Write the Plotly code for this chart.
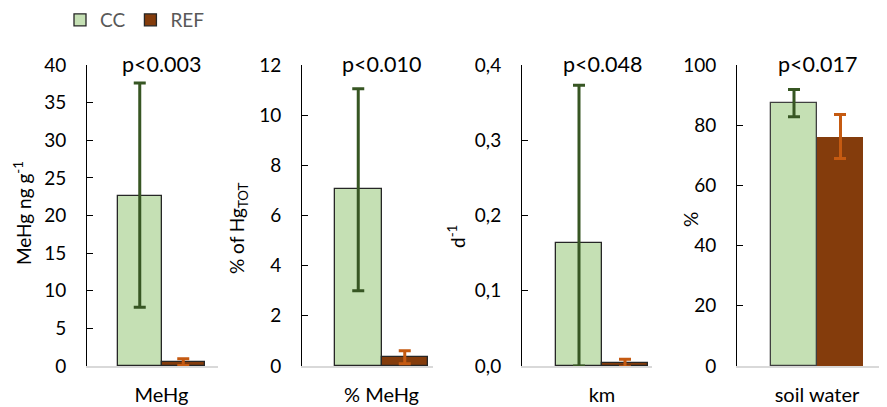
import plotly.graph_objects as go

# ---- data ----
categories = ["MeHg", "% MeHg", "km", "soil water"]
cc_values = [22.6, 7.05, 0.163, 87.4]
cc_err_plus = [15.0, 4.0, 0.21, 4.5]
cc_err_minus = [14.8, 4.05, 0.163, 4.6]
ref_values = [0.5, 0.35, 0.004, 76.2]
ref_err = [0.45, 0.26, 0.005, 7.4]
p_labels = ["p<0.003", "p<0.010", "p<0.048", "p<0.017"]
y_titles = ["MeHg ng g<sup>-1</sup>", "% of Hg<sub>TOT</sub>", "d<sup>-1</sup>", "%"]
y_ranges = [[0, 40], [0, 12], [0, 0.4], [0, 100]]
y_tickvals = [[0, 5, 10, 15, 20, 25, 30, 35, 40],
              [0, 2, 4, 6, 8, 10, 12],
              [0, 0.1, 0.2, 0.3, 0.4],
              [0, 20, 40, 60, 80, 100]]
y_ticktext = [["0", "5", "10", "15", "20", "25", "30", "35", "40"],
              ["0", "2", "4", "6", "8", "10", "12"],
              ["0,0", "0,1", "0,2", "0,3", "0,4"],
              ["0", "20", "40", "60", "80", "100"]]

# ---- layout geometry (window pixels; page body has an 8px margin) ----
OFF = 8
FW, FH = 879, 399
def px(v):
    return (v - OFF) / FW
def py(v):
    return 1 - (v - OFF) / FH

axis_left = [87, 302, 522, 737]
bar_center = [161.5, 381.5, 602, 817]
bar_width = [87, 93, 92, 92]
axis_right = [218, 433, 652, 887]
title_x = [22, 238, 456, 690]
title_y = [213, 228, 236, 220]
plot_top, plot_bottom = 65, 366

CC_FILL = "#C5E0B4"
REF_FILL = "#843C0C"
CC_ERR = "#375623"
REF_ERR = "#C55A11"
FONT = "Lato, Carlito, Calibri, sans-serif"

fig = go.Figure()
layout = dict(
    width=FW, height=FH,
    margin=dict(l=0, r=0, t=0, b=0, autoexpand=False),
    paper_bgcolor="white", plot_bgcolor="white",
    barmode="group", bargap=0, bargroupgap=0,
    font=dict(family=FONT, size=19, color="black"),
    showlegend=True,
    legend=dict(orientation="h", x=px(60), xanchor="left", y=1 + 7 / FH, yanchor="top",
                font=dict(size=19, color="#595959"), bgcolor="rgba(0,0,0,0)",
                itemclick=False, tracegroupgap=0, borderwidth=0),
)
annotations = []
ydom = [py(plot_bottom), py(plot_top)]

for i in range(4):
    sfx = "" if i == 0 else str(i + 1)
    xa, ya = "x" + sfx, "y" + sfx
    fig.add_trace(go.Bar(
        x=[categories[i]], y=[cc_values[i]], name="CC", xaxis=xa, yaxis=ya,
        marker=dict(color=CC_FILL, line=dict(color="#262626" if i < 3 else "#404040", width=1.3)),
        error_y=dict(type="data", symmetric=False, array=[cc_err_plus[i]], arrayminus=[cc_err_minus[i]],
                     color=CC_ERR, thickness=3, width=6),
        showlegend=(i == 0), legendgroup="CC"))
    fig.add_trace(go.Bar(
        x=[categories[i]], y=[ref_values[i]], name="REF", xaxis=xa, yaxis=ya,
        marker=dict(color=REF_FILL, line=dict(color="#262626" if i < 3 else REF_FILL, width=1.3 if i < 3 else 0)),
        error_y=dict(type="data", array=[ref_err[i]], color=REF_ERR, thickness=3, width=6),
        showlegend=(i == 0), legendgroup="REF"))
    wb = bar_width[i]
    rng = [-(bar_center[i] - axis_left[i]) / wb, (axis_right[i] - bar_center[i]) / wb]
    layout["xaxis" + sfx] = dict(
        domain=[px(axis_left[i]), min(1, px(axis_right[i]))], anchor=ya, range=rng,
        showline=True, linecolor="#D9D9D9", linewidth=2, ticks="", showgrid=False,
        zeroline=False, tickfont=dict(size=20), ticklabelstandoff=10, fixedrange=True)
    layout["yaxis" + sfx] = dict(
        domain=ydom, anchor=xa, range=y_ranges[i], tickvals=y_tickvals[i], ticktext=y_ticktext[i],
        showline=True, linecolor="black", linewidth=1, ticks="inside", ticklen=6, tickcolor="black",
        showgrid=False, zeroline=False, tickfont=dict(size=19), ticklabelstandoff=16, fixedrange=True)
    annotations.append(dict(text=p_labels[i], xref=xa, yref="paper", x=categories[i], y=py(64),
                            showarrow=False, font=dict(size=21.5), xanchor="center", yanchor="middle"))
    annotations.append(dict(text=y_titles[i], xref="paper", yref="paper", x=px(title_x[i]), y=py(title_y[i]),
                            showarrow=False, textangle=-90, font=dict(size=19),
                            xanchor="center", yanchor="middle"))

layout["annotations"] = annotations
fig.update_layout(**layout)
fig.write_html("out.html")
